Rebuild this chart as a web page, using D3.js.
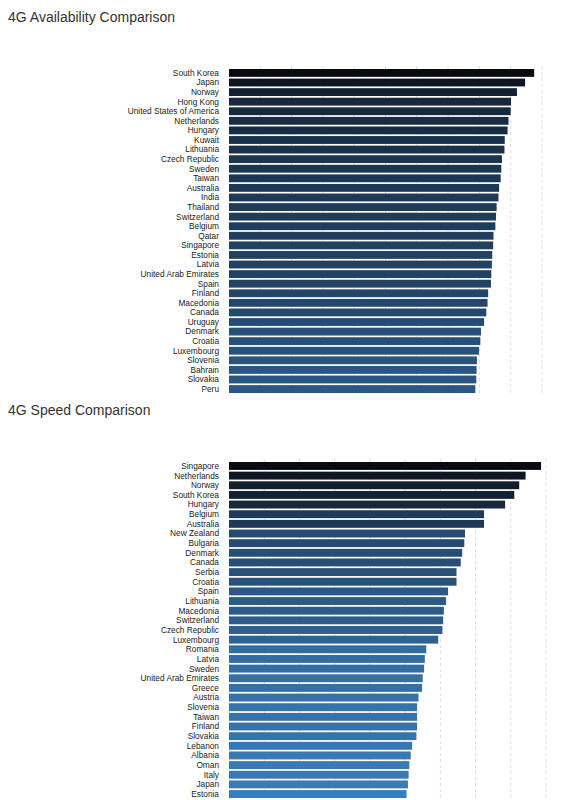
<!DOCTYPE html>
<html>
<head>
<meta charset="utf-8">
<script src="https://cdn.jsdelivr.net/npm/d3@7"></script>
<style>
	body { margin: 0; background: #fff; font-family: "Liberation Sans", Arial, sans-serif; }
	.title { font-size: 14px; fill: #333; }
	.label { font-size: 8.3px; fill: #222; }
	.grid line { stroke: #d8dce4; stroke-dasharray: 3,3; }
</style>
</head>
<body>
<div id="chart"></div>
<script>
"use strict";

var availCountries = ["South Korea", "Japan", "Norway", "Hong Kong", "United States of America",
	"Netherlands", "Hungary", "Kuwait", "Lithuania", "Czech Republic", "Sweden", "Taiwan",
	"Australia", "India", "Thailand", "Switzerland", "Belgium", "Qatar", "Singapore", "Estonia",
	"Latvia", "United Arab Emirates", "Spain", "Finland", "Macedonia", "Canada", "Uruguay",
	"Denmark", "Croatia", "Luxembourg", "Slovenia", "Bahrain", "Slovakia", "Peru"];
var availValues = [97.5, 94.6, 92.0, 90.1, 90.0, 89.3, 89.0, 88.1, 88.0, 87.2, 87.0, 86.8,
	86.3, 86.1, 85.5, 85.3, 85.1, 84.5, 84.4, 84.1, 84.0, 83.8, 83.7, 82.8, 82.6, 82.2, 81.5,
	80.5, 80.3, 79.9, 79.2, 79.1, 79.0, 78.7];

var speedCountries = ["Singapore", "Netherlands", "Norway", "South Korea", "Hungary", "Belgium",
	"Australia", "New Zealand", "Bulgaria", "Denmark", "Canada", "Serbia", "Croatia", "Spain",
	"Lithuania", "Macedonia", "Switzerland", "Czech Republic", "Luxembourg", "Romania", "Latvia",
	"Sweden", "United Arab Emirates", "Greece", "Austria", "Slovenia", "Taiwan", "Finland",
	"Slovakia", "Lebanon", "Albania", "Oman", "Italy", "Japan", "Estonia"];
var speedValues = [44.3, 42.1, 41.2, 40.5, 39.2, 36.2, 36.2, 33.5, 33.4, 33.1, 32.9, 32.3,
	32.3, 31.1, 30.8, 30.5, 30.4, 30.3, 29.7, 28.0, 27.8, 27.7, 27.5, 27.4, 26.9, 26.7, 26.7,
	26.7, 26.6, 26.0, 25.8, 25.6, 25.5, 25.4, 25.2];

var svg = d3.select("#chart").append("svg")
	.attr("width", 569)
	.attr("height", 800);

function drawChart(cfg) {
	var g = svg.append("g");

	g.append("text")
		.attr("class", "title")
		.attr("x", 8)
		.attr("y", cfg.titleY)
		.text(cfg.title);

	var x = d3.scaleLinear().domain([0, cfg.xMax]).range([229, cfg.xRight]);
	var y = d3.scaleBand().domain(cfg.names).range([cfg.top, cfg.bottom]).paddingInner(0.18);
	var colour = d3.scaleLinear()
		.domain([d3.max(cfg.values), d3.min(cfg.values)])
		.range(cfg.colours)
		.interpolate(d3.interpolateRgb);

	// dashed gridlines
	g.append("g").attr("class", "grid")
		.selectAll("line")
		.data(x.ticks(cfg.tickCount).filter(function(t) { return t > 0; }))
		.join("line")
		.attr("x1", function(d) { return x(d); })
		.attr("x2", function(d) { return x(d); })
		.attr("y1", cfg.top - 3)
		.attr("y2", cfg.bottom + 3);

	g.append("g").selectAll("rect")
		.data(cfg.values)
		.join("rect")
		.attr("x", x(0))
		.attr("y", function(d, i) { return y(cfg.names[i]); })
		.attr("width", function(d) { return x(d) - x(0); })
		.attr("height", y.bandwidth())
		.attr("fill", function(d) { return colour(d); });

	g.append("g").selectAll("text")
		.data(cfg.names)
		.join("text")
		.attr("class", "label")
		.attr("x", 219)
		.attr("y", function(d) { return y(d) + y.bandwidth() / 2; })
		.attr("dy", "0.35em")
		.attr("text-anchor", "end")
		.text(function(d) { return d; });
}

drawChart({
	title: "4G Availability Comparison", titleY: 22,
	names: availCountries, values: availValues,
	xMax: 100, xRight: 542, tickCount: 10,
	top: 69, bottom: 393,
	colours: ["#0a0a12", "#2a5783"]
});

drawChart({
	title: "4G Speed Comparison", titleY: 415,
	names: speedCountries, values: speedValues,
	xMax: 45, xRight: 546, tickCount: 9,
	top: 462, bottom: 798,
	colours: ["#0a0a12", "#3a7cb8"]
});
</script>
</body>
</html>
